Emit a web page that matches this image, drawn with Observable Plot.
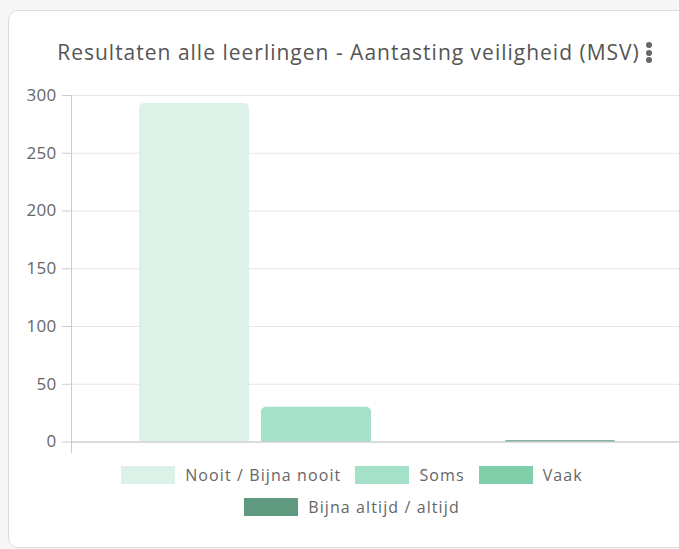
<!DOCTYPE html>
<html>
<head>
<meta charset="utf-8">
<script src="https://cdn.jsdelivr.net/npm/d3@7"></script>
<script src="https://cdn.jsdelivr.net/npm/@observablehq/plot@0.6"></script>
<style>
  html, body { margin: 0; padding: 0; background: #f7f7f7; width: 679px; height: 549px; overflow: hidden; font-family: "Open Sans", Lato, sans-serif; }
  #card { position: absolute; left: 8px; top: 10px; width: 720px; height: 536px; background: #fff; border: 1px solid #dcdcdc; border-radius: 10px; }
  #title { position: absolute; left: 0; top: 38px; width: 697px; text-align: center; font-size: 21px; letter-spacing: 1px; color: #555; white-space: nowrap; }
  #menu { position: absolute; left: 646px; top: 42px; width: 6px; }
  #menu span { display: block; width: 6px; height: 6px; border-radius: 50%; background: #666; margin-bottom: 1.5px; }
  #chart { position: absolute; left: 0; top: 0; }
  #legend { position: absolute; left: 0; top: 459px; width: 704px; font-size: 16px; letter-spacing: 1.1px; color: #666; }
  .row { display: flex; justify-content: center; align-items: center; height: 32px; }
  .item { display: flex; align-items: center; margin: 0 7px; }
  .sw { width: 54px; height: 18px; margin-right: 10px; }
</style>
</head>
<body>
<div id="card"></div>
<div id="title">Resultaten alle leerlingen - Aantasting veiligheid (MSV)</div>
<div id="menu"><span></span><span></span><span></span></div>
<div id="chart"></div>
<div id="legend"></div>
<script>
const categories = ["Nooit / Bijna nooit", "Soms", "Vaak", "Bijna altijd / altijd"];
const values = [293, 30, 0, 1];
const colors = ["#dcf2e9", "#a5e0c9", "#80cfaa", "#5f9a80"];
const yTicks = [0, 50, 100, 150, 200, 250, 300];
const legendRows = [[0, 1, 2], [3]];

const data = categories.map((c, i) => ({cat: c, value: values[i]}));

// rounded top corners where supported (Plot >= 0.6.15), otherwise all corners
const ver = (Plot.version || "0.6.0").split(".").map(Number);
const topRound = ver[1] > 6 || (ver[1] === 6 && ver[2] >= 15);
const cornerOpts = topRound ? {ry1: 5} : {rx: 5};

const chart = Plot.plot({
  width: 679,
  height: 460,
  marginLeft: 71,
  marginRight: 0,
  marginTop: 95,
  marginBottom: 18.5,
  style: {fontFamily: "'Open Sans', Lato, sans-serif", fontSize: "17px", letterSpacing: "0.3px", color: "#666", background: "transparent"},
  x: {type: "band", domain: categories, range: [133, 621], paddingInner: 0.1, paddingOuter: 0.05, axis: null},
  y: {domain: [0, 300], ticks: yTicks},
  color: {domain: categories, range: colors},
  marks: [
    Plot.gridY(yTicks, {stroke: "#e6e6e6", strokeOpacity: 1}),
    Plot.frame({anchor: "left", stroke: "#cccccc", insetBottom: -10.5}),
    Plot.barY(data, {x: "cat", y: "value", fill: "cat", ...cornerOpts}),
    Plot.ruleY([0], {stroke: "#c4c4c4"}),
    Plot.axisY(yTicks, {tickSize: 9, tickPadding: 6, stroke: "#cccccc", fill: "#666", label: null})
  ]
});
document.getElementById("chart").appendChild(chart);

const legend = document.getElementById("legend");
legendRows.forEach(row => {
  const r = document.createElement("div");
  r.className = "row";
  row.forEach(i => {
    const it = document.createElement("div");
    it.className = "item";
    const sw = document.createElement("div");
    sw.className = "sw";
    sw.style.background = colors[i];
    const t = document.createElement("span");
    t.textContent = categories[i];
    it.appendChild(sw); it.appendChild(t);
    r.appendChild(it);
  });
  legend.appendChild(r);
});
</script>
</body>
</html>
